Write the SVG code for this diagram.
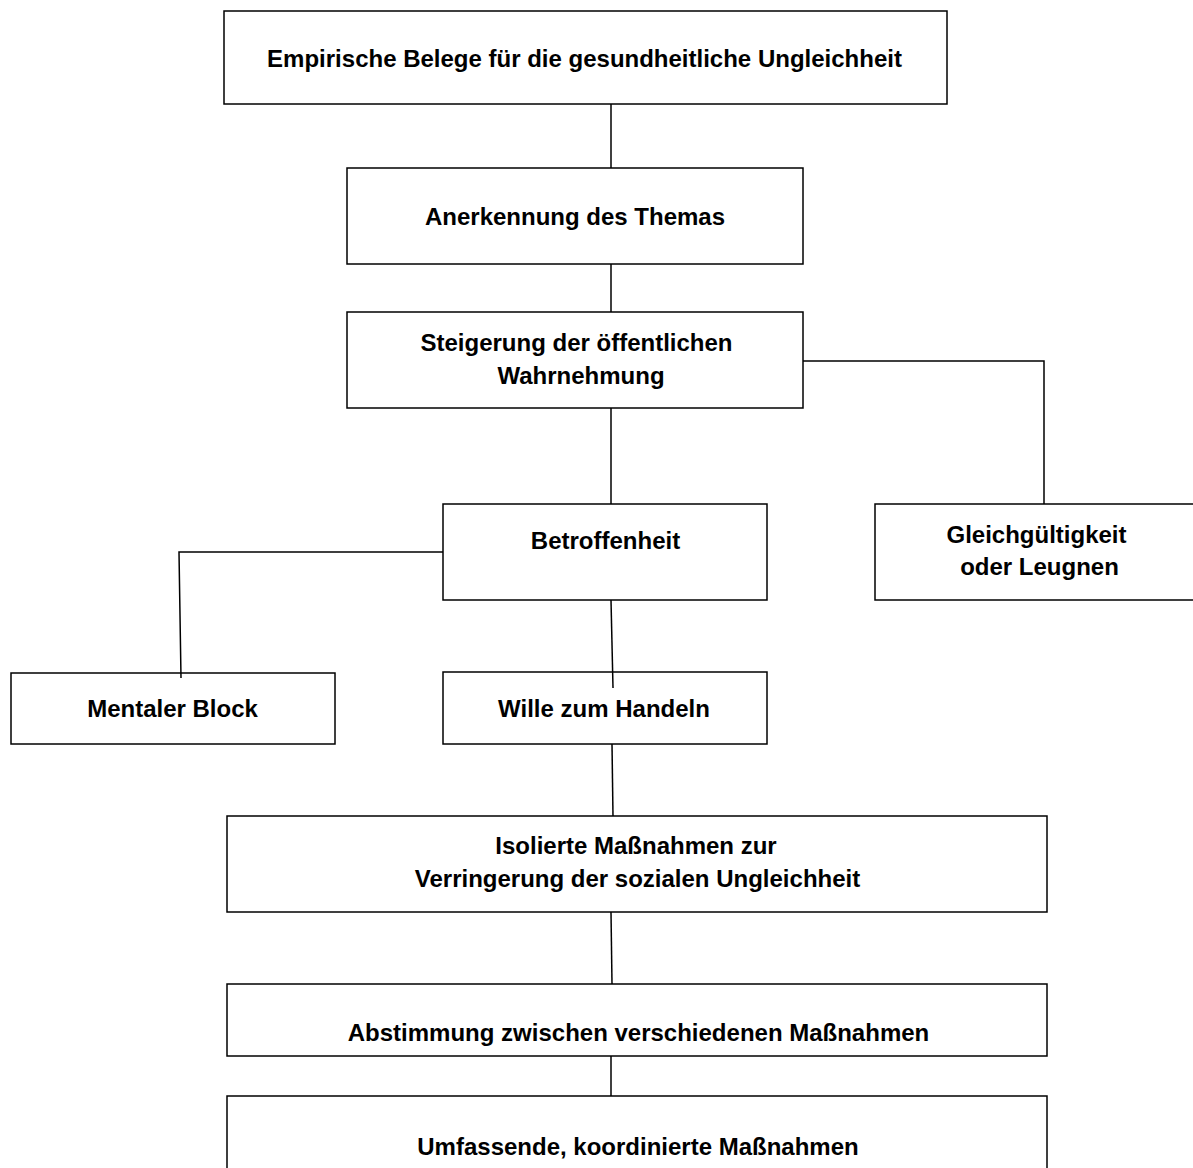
<svg xmlns="http://www.w3.org/2000/svg" width="1193" height="1168" viewBox="0 0 1193 1168">
<style>
.box{fill:#fff;stroke:#000;stroke-width:1.5}
.t{font-family:"Liberation Sans",Arial,sans-serif;font-weight:bold;font-size:24px;text-anchor:middle;fill:#000}
.c{fill:none;stroke:#000;stroke-width:1.5}
</style>
<rect width="1193" height="1168" fill="#fff"/>
<g id="n1"><rect class="box" x="224" y="11" width="723" height="93"/><text class="t" x="584.5" y="67">Empirische Belege für die gesundheitliche Ungleichheit</text></g>
<g id="n2"><rect class="box" x="347" y="168" width="456" height="96"/><text class="t" x="575" y="225">Anerkennung des Themas</text></g>
<g id="n3"><rect class="box" x="347" y="312" width="456" height="96"/><text class="t" x="576.5" y="351">Steigerung der öffentlichen</text><text class="t" x="581" y="384">Wahrnehmung</text></g>
<g id="n4"><rect class="box" x="875" y="504" width="330" height="96"/><text class="t" x="1036.5" y="543">Gleichgültigkeit</text><text class="t" x="1039.5" y="575">oder Leugnen</text></g>
<g id="n5"><rect class="box" x="443" y="504" width="324" height="96"/><text class="t" x="605.5" y="549">Betroffenheit</text></g>
<g id="n6"><rect class="box" x="11" y="673" width="324" height="71"/><text class="t" x="172.5" y="717">Mentaler Block</text></g>
<g id="n7"><rect class="box" x="443" y="672" width="324" height="72"/><text class="t" x="604" y="717">Wille zum Handeln</text></g>
<g id="n8"><rect class="box" x="227" y="816" width="820" height="96"/><text class="t" x="636" y="854">Isolierte Maßnahmen zur</text><text class="t" x="637.5" y="887">Verringerung der sozialen Ungleichheit</text></g>
<g id="n9"><rect class="box" x="227" y="984" width="820" height="72"/><text class="t" x="638.5" y="1041">Abstimmung zwischen verschiedenen Maßnahmen</text></g>
<g id="n10"><rect class="box" x="227" y="1096" width="820" height="90"/><text class="t" x="638" y="1155">Umfassende, koordinierte Maßnahmen</text></g>
<g id="connectors">
<path class="c" d="M611,104 L611,168"/>
<path class="c" d="M611,264 L611,312"/>
<path class="c" d="M803,361 L1044,361 L1044,504"/>
<path class="c" d="M611,408 L611,504"/>
<path class="c" d="M443,552 L179,552 L181,678"/>
<path class="c" d="M611,600 L613,688"/>
<path class="c" d="M612,744 L613,816"/>
<path class="c" d="M611,912 L612,984"/>
<path class="c" d="M611,1056 L611,1096"/>
</g>
</svg>
